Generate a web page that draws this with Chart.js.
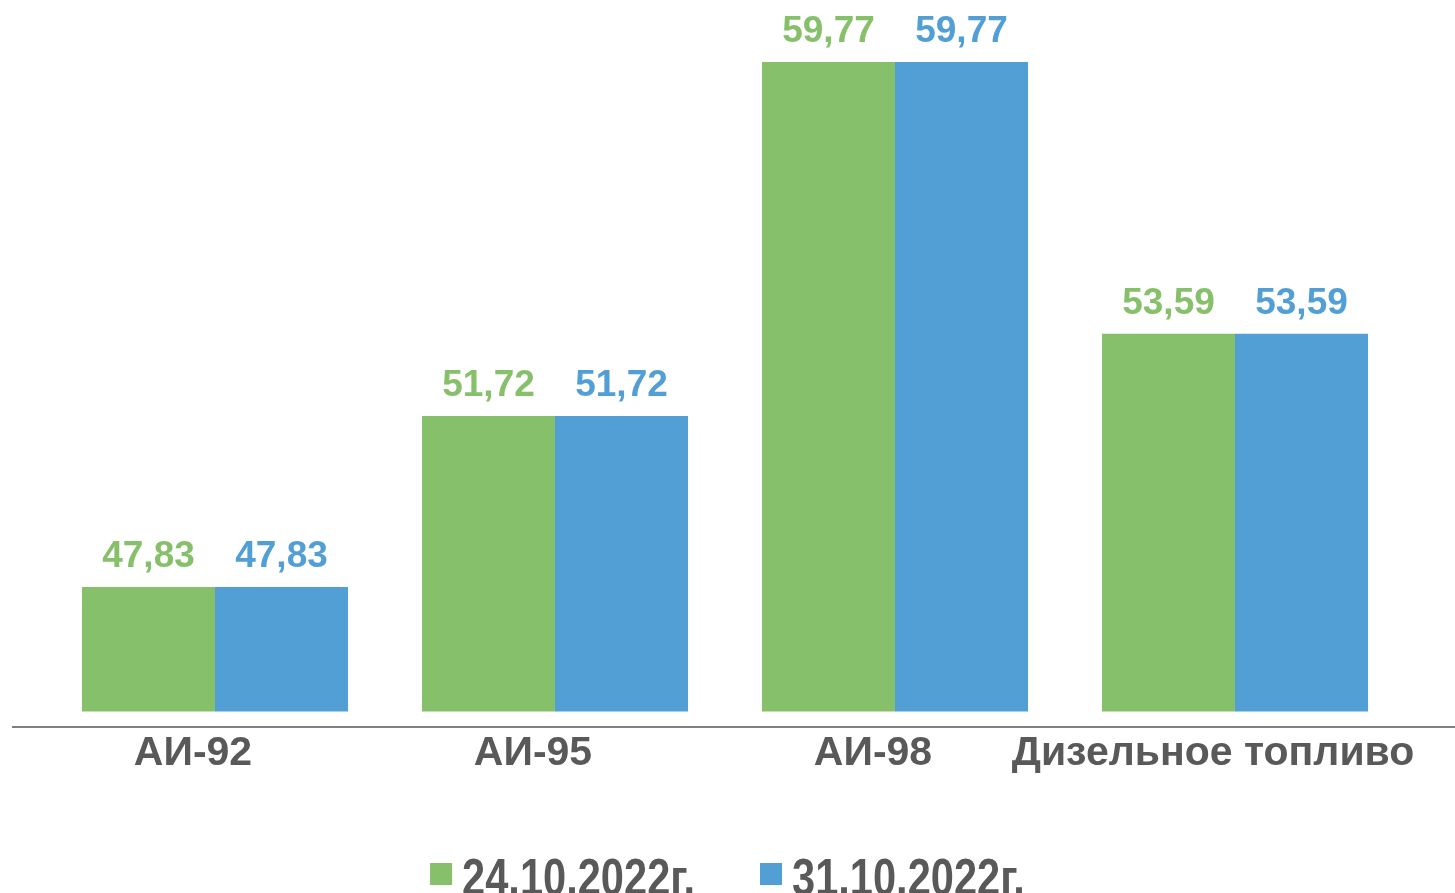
<!DOCTYPE html>
<html>
<head>
<meta charset="utf-8">
<script src="https://cdn.jsdelivr.net/npm/chart.js@4/dist/chart.umd.min.js"></script>
<style>
html,body{margin:0;padding:0;background:#fff;overflow:hidden;}
#wrap{width:1455px;height:893px;position:relative;}
</style>
</head>
<body>
<div id="wrap"><canvas id="c"></canvas></div>
<script>
const categories = ['АИ-92', 'АИ-95', 'АИ-98', 'Дизельное топливо'];
const seriesNames = ['24.10.2022г.', '31.10.2022г.'];
const values1 = [47.83, 51.72, 59.77, 53.59];
const values2 = [47.83, 51.72, 59.77, 53.59];
const barBase = 45;
const axisMin = 44.646;
const axisMax = 61.18;

const GREEN = '#87C06A';
const BLUE = '#529FD6';
const GRAY = '#595959';
const FONT = '"Liberation Sans", Arial, sans-serif';

const fmt = v => v.toFixed(2).replace('.', ',');

const extras = {
  id: 'extras',
  afterDatasetsDraw(chart) {
    const ctx = chart.ctx;
    const y = chart.scales.y;
    ctx.save();
    // wide category axis line
    ctx.strokeStyle = '#808080';
    ctx.lineWidth = 2;
    ctx.beginPath();
    ctx.moveTo(12, y.bottom);
    ctx.lineTo(chart.width, y.bottom);
    ctx.stroke();
    // value labels
    ctx.font = 'bold 37px ' + FONT;
    ctx.textAlign = 'center';
    ctx.textBaseline = 'alphabetic';
    chart.data.datasets.forEach((ds, i) => {
      const meta = chart.getDatasetMeta(i);
      meta.data.forEach((bar, j) => {
        ctx.fillStyle = ds.backgroundColor;
        ctx.fillText(fmt(ds.data[j]), bar.x, bar.y - 20);
      });
    });
    ctx.restore();
  },
  afterDraw(chart) {
    // legend (condensed bold text, partially below the canvas edge as in reference)
    const ctx = chart.ctx;
    const sx = 0.8, fs = 52, box = 22, gap = 10, itemGap = 65;
    ctx.save();
    ctx.font = 'bold ' + fs + 'px ' + FONT;
    const items = chart.data.datasets.map(ds => ({
      label: ds.label, color: ds.backgroundColor,
      w: ctx.measureText(ds.label).width * sx
    }));
    const total = items.reduce((a, it) => a + box + gap + it.w, 0) + itemGap * (items.length - 1);
    let x = chart.width / 2 - total / 2;
    const boxTop = y0 = 863;
    items.forEach(it => {
      ctx.fillStyle = it.color;
      ctx.fillRect(x, boxTop, box, box);
      x += box + gap;
      ctx.save();
      ctx.translate(x, 895);
      ctx.scale(sx, 1);
      ctx.fillStyle = GRAY;
      ctx.textAlign = 'left';
      ctx.textBaseline = 'alphabetic';
      ctx.fillText(it.label, 0, 0);
      ctx.restore();
      x += it.w + itemGap;
    });
    ctx.restore();
  }
};

new Chart(document.getElementById('c'), {
  type: 'bar',
  data: {
    labels: categories,
    datasets: [
      { label: seriesNames[0], data: values1, backgroundColor: GREEN, base: barBase },
      { label: seriesNames[1], data: values2, backgroundColor: BLUE, base: barBase }
    ]
  },
  options: {
    responsive: true,
    maintainAspectRatio: false,
    animation: false,
    devicePixelRatio: 1,
    categoryPercentage: 0.7824,
    barPercentage: 1.0,
    layout: { padding: { left: 45, right: 50, top: 0, bottom: 90 } },
    scales: {
      x: {
        grid: { display: false, drawTicks: false },
        border: { display: false },
        afterFit: s => { s.height = 76; },
        ticks: {
          color: GRAY,
          font: { family: FONT, size: 41, weight: 'bold' },
          padding: 2,
          labelOffset: -22,
          maxRotation: 0,
          autoSkip: false
        }
      },
      y: {
        display: false,
        min: axisMin,
        max: axisMax
      }
    },
    plugins: {
      legend: { display: false },
      tooltip: { enabled: false }
    }
  },
  plugins: [extras]
});
</script>
</body>
</html>
